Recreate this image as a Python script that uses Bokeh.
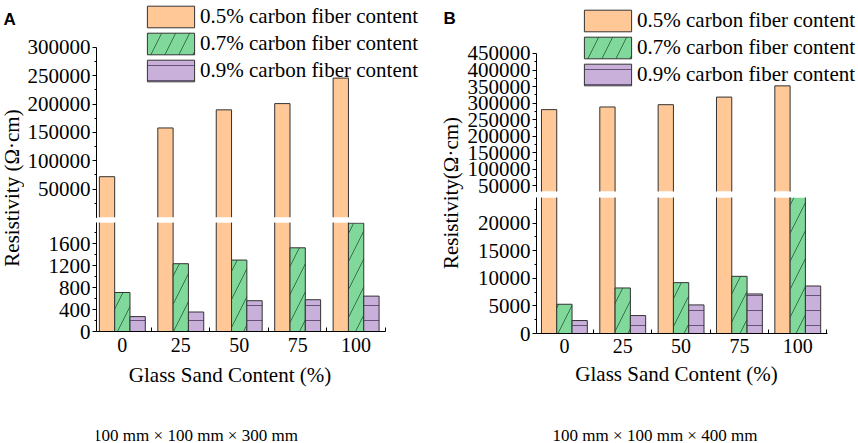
from math import pi
from bokeh.plotting import figure
from bokeh.layouts import row, column
from bokeh.models import (ColumnDataSource, Range1d, FixedTicker, NumeralTickFormatter,
                          Legend, LegendItem, Label)
from bokeh.transform import dodge
from bokeh.embed import file_html
from bokeh.resources import INLINE

# ---------------- data ----------------
categories = ["0", "25", "50", "75", "100"]
series_labels = ["0.5% carbon fiber content",
                 "0.7% carbon fiber content",
                 "0.9% carbon fiber content"]

# Panel A: 100 mm x 100 mm x 300 mm
a_cf05 = [72000, 158000, 190000, 201000, 246000]
a_cf07 = [712, 1238, 1304, 1528, 1978]
a_cf09 = [272, 356, 562, 580, 646]

# Panel B: 100 mm x 100 mm x 400 mm
b_cf05 = [280000, 288000, 295000, 318000, 352000]
b_cf07 = [5300, 8250, 9220, 10360, 25000]
b_cf09 = [2350, 3250, 5180, 7170, 8610]

a_upper_ticks = [50000, 100000, 150000, 200000, 250000, 300000]
a_upper_minor = [25000, 75000, 125000, 175000, 225000, 275000]
a_lower_ticks = [0, 400, 800, 1200, 1600]
a_lower_minor = [200, 600, 1000, 1400, 1800]
b_upper_ticks = [50000, 100000, 150000, 200000, 250000, 300000, 350000, 400000, 450000]
b_upper_minor = [75000, 125000, 175000, 225000, 275000, 325000, 375000, 425000]
b_lower_ticks = [0, 5000, 10000, 15000, 20000]
b_lower_minor = [2500, 7500, 12500, 17500, 22500]

x_label = "Glass Sand Content (%)"
y_label_a = "Resistivity (Ω·cm)"
y_label_b = "Resistivity(Ω·cm)"
caption_a = "100 mm × 100 mm × 300 mm"
caption_b = "100 mm × 100 mm × 400 mm"

# ---------------- style ----------------
SERIF = "Liberation Serif"
SANS = "Liberation Sans"
COLORS = ["#FFC896", "#80D89B", "#C8B0DA"]
EDGE = "#333333"
HATCH = [None, "/", "-"]
HATCH_COLORS = ["#333333", "#2F6640", "#5A4A6A"]
HATCH_SCALE = [12, 28, 15]
OFFS = [-0.262, 0.0, 0.262]
BW = 0.262
H = 443
COLS = ["v0", "v1", "v2"]


def bar_style(k):
    return dict(fill_color=COLORS[k], hatch_pattern=HATCH[k], hatch_color=HATCH_COLORS[k],
                hatch_weight=0.9, hatch_scale=HATCH_SCALE[k])


def section(width, height, xr, yr, bounds, borders, ticks, minor, show_x, src,
            upper, x_bounds=None, tick_standoff=6):
    left, right, top, bottom = borders
    p = figure(width=width, height=height, x_range=Range1d(*xr), y_range=Range1d(*yr),
               output_backend="svg", toolbar_location=None, title=None,
               x_axis_location="below" if show_x else None, y_axis_location="left",
               min_border_left=left, min_border_right=right,
               min_border_top=top, min_border_bottom=bottom)
    p.outline_line_color = None
    p.grid.grid_line_color = None
    p.background_fill_color = "white"
    p.border_fill_color = "white"

    legend_rs = []
    if upper:
        # legend keys: full bars parked off-view, so only the swatches show
        p.extra_x_ranges = {"key": Range1d(1e12, 2e12)}
        p.extra_y_ranges = {"key": Range1d(1e12, 2e12)}
        for k, col in enumerate(COLS):
            legend_rs.append(p.vbar(x=dodge("idx", OFFS[k]), top=col, bottom=0, width=BW,
                                    source=src, line_color=EDGE, line_width=1,
                                    x_range_name="key", y_range_name="key", **bar_style(k)))

    # the small series lie wholly below the axis break
    shown = [0] if upper else [0, 1, 2]
    half = BW / 2
    for k in shown:
        col = COLS[k]
        p.vbar(x=dodge("idx", OFFS[k], range=p.x_range), top=col, bottom=0, width=BW,
               source=src, line_color=None, **bar_style(k))
        # bar outlines (sides and top) so that the break gap stays clean
        p.segment(x0=dodge("idx", OFFS[k] - half), y0=0, x1=dodge("idx", OFFS[k] - half),
                  y1=col, source=src, line_color=EDGE, line_width=1)
        p.segment(x0=dodge("idx", OFFS[k] + half), y0=0, x1=dodge("idx", OFFS[k] + half),
                  y1=col, source=src, line_color=EDGE, line_width=1)
        p.segment(x0=dodge("idx", OFFS[k] - half), y0=col, x1=dodge("idx", OFFS[k] + half),
                  y1=col, source=src, line_color=EDGE, line_width=1)

    ya = p.yaxis[0]
    ya.ticker = FixedTicker(ticks=ticks, minor_ticks=minor)
    ya.formatter = NumeralTickFormatter(format="0")
    ya.bounds = bounds
    ya.major_label_text_font = SERIF
    ya.major_label_text_font_size = "21px"
    ya.major_label_text_color = "black"
    ya.major_tick_out = 4
    ya.major_tick_in = 0
    ya.minor_tick_out = 2
    ya.minor_tick_in = 0
    ya.major_label_standoff = 2
    ya.axis_line_color = "black"
    ya.major_tick_line_color = "black"
    ya.minor_tick_line_color = "black"
    if show_x:
        xa = p.xaxis[0]
        xa.ticker = FixedTicker(ticks=list(range(len(categories))),
                                minor_ticks=[i + 0.5 for i in range(len(categories))])
        xa.major_label_overrides = {i: c for i, c in enumerate(categories)}
        xa.bounds = x_bounds
        xa.major_tick_in = 0
        xa.major_tick_out = 0
        xa.minor_tick_in = 4
        xa.minor_tick_out = 0
        xa.major_label_text_font = SERIF
        xa.major_label_text_font_size = "20px"
        xa.major_label_text_color = "black"
        xa.major_label_standoff = tick_standoff
        xa.axis_line_color = "black"
        xa.minor_tick_line_color = "black"
    return p, legend_rs


def add_legend(p, rs, loc, font_size):
    items = [LegendItem(label=series_labels[k], renderers=[rs[k]]) for k in range(3)]
    lg = Legend(items=items, location=loc, glyph_width=59, glyph_height=27, spacing=0,
                padding=0, margin=0, label_standoff=0, border_line_color=None,
                background_fill_alpha=0, label_text_font=SERIF,
                label_text_font_size=font_size, label_text_color="black", label_height=27)
    p.add_layout(lg, "center")


def text_fig(width, height, labels, left=0, right=0):
    p = figure(width=width, height=height, x_range=Range1d(0, 1), y_range=Range1d(0, 1),
               output_backend="svg", toolbar_location=None, title=None,
               x_axis_location=None, y_axis_location=None,
               min_border_left=left, min_border_right=right,
               min_border_top=0, min_border_bottom=0)
    p.outline_line_color = None
    p.grid.grid_line_color = None
    for lb in labels:
        p.add_layout(lb)
    return p


def txt(x, y, text, size, font=SERIF, angle=0.0, align="center", baseline="middle",
        style="normal"):
    return Label(x=x, y=y, x_units="screen", y_units="screen", text=text, angle=angle,
                 text_align=align, text_baseline=baseline, text_font=font,
                 text_font_size=size, text_font_style=style, text_color="black")


def src_of(v0, v1, v2):
    return ColumnDataSource(dict(idx=list(range(len(categories))), cat=categories,
                                 v0=v0, v1=v1, v2=v2))


# ---------------- panel A ----------------
A_W, A_L = 405, 70
xr_a = (-0.442, 5.256)
src_a = src_of(a_cf05, a_cf07, a_cf09)
a_top, rs_a = section(A_W, 222, xr_a, (0, 382941), (0, 300000), (A_L, 0, 0, 5),
                      a_upper_ticks, a_upper_minor, False, src_a, True)
a_bot, _ = section(A_W, 139, xr_a, (0, 1990), (0, 1990), (A_L, 0, 0, 30),
                   a_lower_ticks, a_lower_minor, True, src_a, False,
                   x_bounds=(-0.442, 4.51), tick_standoff=6)
add_legend(a_top, rs_a, (45, 133), "21px")
txt_a = text_fig(A_W, 82, [txt(133.5, 69, x_label, "21px"),
                           txt(99, 8.5, caption_a, "17px")], left=A_L)

lab_a = text_fig(24, H, [
    txt(11, 255.5, y_label_a, "21px", angle=pi / 2),
    txt(3, 424.5, "A", "17px", font=SANS, align="left", baseline="alphabetic", style="bold"),
])

# ---------------- panel B ----------------
B_W, B_L = 394, 71
xr_b = (-0.478, 5.041)
src_b = src_of(b_cf05, b_cf07, b_cf09)
b_top, rs_b = section(B_W, 197, xr_b, (32000, 610536), (32000, 450000), (B_L, 0, 0, 6),
                      b_upper_ticks, b_upper_minor, False, src_b, True)
b_bot, _ = section(B_W, 165, xr_b, (0, 24650), (0, 24650), (B_L, 0, 0, 29),
                   b_lower_ticks, b_lower_minor, True, src_b, False,
                   x_bounds=(-0.478, 4.51), tick_standoff=5)
add_legend(b_top, rs_b, (42, 103), "21px")
txt_b = text_fig(B_W, 81, [txt(140, 69.5, x_label, "21px"),
                           txt(118.5, 8.5, caption_b, "17px")], left=B_L)

lab_b = text_fig(35, H, [
    txt(21, 250.5, y_label_b, "21px", angle=pi / 2),
    txt(14, 425.5, "B", "17px", font=SANS, align="left", baseline="alphabetic", style="bold"),
])

layout = row(lab_a, column(a_top, a_bot, txt_a), lab_b, column(b_top, b_bot, txt_b))

with open("out.html", "w") as f:
    f.write(file_html(layout, INLINE))
